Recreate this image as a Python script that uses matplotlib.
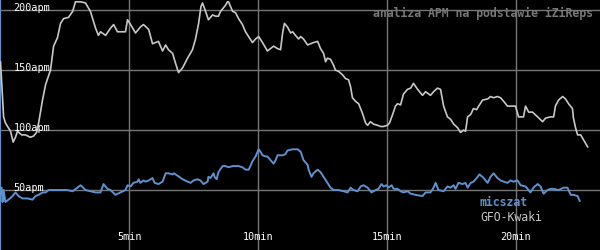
import matplotlib
matplotlib.use('Agg')
import matplotlib.pyplot as plt

# minutes / apm
gfo_t = [0.0, 0.12, 0.19, 0.39, 0.49, 0.58, 0.66, 0.82, 0.97, 1.16, 1.28, 1.40, 1.48, 1.63, 1.75, 1.94,
         2.06, 2.21, 2.33, 2.45, 2.64, 2.80, 2.91, 3.11, 3.30, 3.49, 3.69, 3.80, 3.88, 4.08, 4.27, 4.39,
         4.54, 4.74, 4.85, 4.93, 5.05, 5.24, 5.43, 5.55, 5.75, 5.90, 6.02, 6.13, 6.29, 6.41, 6.52, 6.68,
         6.79, 6.91, 7.07, 7.26, 7.45, 7.57, 7.69, 7.78, 7.84, 7.96, 8.07, 8.23, 8.35, 8.46, 8.54, 8.73,
         8.81, 8.85, 9.01, 9.12, 9.24, 9.39, 9.51, 9.63, 9.78, 9.90, 10.02, 10.17, 10.36, 10.48, 10.60,
         10.75, 10.87, 10.95, 11.02, 11.14, 11.26, 11.34, 11.45, 11.57, 11.65, 11.76, 11.92, 12.03, 12.15,
         12.31, 12.42, 12.54, 12.62, 12.69, 12.81, 12.93, 13.00, 13.12, 13.28, 13.39, 13.51, 13.59, 13.66,
         13.78, 13.90, 14.05, 14.17, 14.25, 14.36, 14.48, 14.64, 14.75, 14.87, 15.02, 15.10, 15.22, 15.33,
         15.41, 15.53, 15.64, 15.80, 15.92, 16.03, 16.19, 16.38, 16.50, 16.69, 16.81, 16.96, 17.08, 17.20,
         17.35, 17.47, 17.59, 17.74, 17.86, 17.97, 18.05, 18.13, 18.25, 18.36, 18.48, 18.56, 18.71, 18.91,
         19.02, 19.14, 19.29, 19.41, 19.53, 19.68, 19.80, 19.91, 19.99, 20.11, 20.30, 20.38, 20.50, 20.65,
         20.85, 21.04, 21.16, 21.35, 21.47, 21.54, 21.66, 21.82, 21.93, 22.05, 22.20, 22.24, 22.32, 22.40,
         22.52, 22.63, 22.79]
gfo_apm = [157, 111, 106, 99, 90, 94, 99, 96, 96, 94, 95, 98, 106, 125, 138, 150,
           170, 177, 189, 193, 194, 199, 207, 207, 206, 199, 185, 179, 182, 179, 185, 188,
           182, 182, 182, 192, 188, 181, 186, 188, 184, 172, 173, 174, 166, 171, 167, 164,
           156, 148, 152, 160, 167, 176, 189, 203, 206, 199, 192, 196, 195, 195, 199, 204,
           207, 207, 199, 198, 193, 188, 182, 178, 173, 176, 178, 173, 166, 168, 170,
           168, 167, 181, 189, 186, 181, 182, 179, 176, 178, 176, 171, 172, 173,
           174, 168, 164, 157, 160, 159, 154, 150, 149, 146, 143, 142, 136, 127,
           124, 122, 114, 106, 104, 107, 105, 104, 103, 103, 104, 106, 113, 120,
           122, 121, 130, 134, 135, 139, 134, 129, 132, 129, 132, 135, 134, 120,
           111, 109, 105, 102, 98, 100, 99, 111, 113, 118, 117, 120, 125, 126,
           128, 127, 128, 127, 124, 120, 120, 120, 120, 111, 111, 120, 115, 115,
           111, 107, 110, 111, 111, 120, 125, 128, 126, 122, 118, 110, 102, 96,
           96, 92, 86]

mic_t = [0.04, 0.08, 0.12, 0.19, 0.31, 0.47, 0.58, 0.70, 0.85, 1.05, 1.24, 1.36, 1.48, 1.63, 1.75, 1.86,
         2.06, 2.33, 2.60, 2.80, 2.99, 3.11, 3.30, 3.49, 3.69, 3.88, 4.00, 4.15, 4.27, 4.46, 4.66, 4.85,
         4.93, 5.05, 5.16, 5.32, 5.36, 5.43, 5.55, 5.63, 5.75, 5.90, 5.98, 6.13, 6.29, 6.41, 6.52, 6.68,
         6.72, 6.87, 7.07, 7.26, 7.38, 7.49, 7.65, 7.76, 7.88, 8.04, 8.07, 8.15, 8.27, 8.31, 8.39, 8.46,
         8.62, 8.73, 8.85, 9.01, 9.12, 9.24, 9.39, 9.51, 9.63, 9.70, 9.78, 9.90, 10.02, 10.09, 10.17,
         10.29, 10.36, 10.48, 10.60, 10.68, 10.75, 10.95, 11.06, 11.14, 11.34, 11.53, 11.65, 11.76, 11.92,
         11.96, 12.07, 12.15, 12.31, 12.42, 12.54, 12.69, 12.81, 12.93, 13.12, 13.32, 13.47, 13.59, 13.70,
         13.86, 13.98, 14.09, 14.25, 14.40, 14.56, 14.67, 14.79, 14.87, 14.98, 15.06, 15.18, 15.26, 15.41,
         15.53, 15.64, 15.80, 15.92, 16.11, 16.38, 16.50, 16.69, 16.81, 16.89, 17.00, 17.20, 17.35, 17.47,
         17.59, 17.66, 17.78, 17.93, 18.05, 18.13, 18.25, 18.36, 18.52, 18.59, 18.71, 18.91, 19.02, 19.14,
         19.29, 19.41, 19.53, 19.68, 19.80, 19.91, 20.07, 20.19, 20.38, 20.57, 20.69, 20.85, 20.96, 21.08,
         21.23, 21.35, 21.47, 21.66, 21.86, 22.01, 22.13, 22.24, 22.40, 22.48]
mic_apm = [52, 40, 50, 40, 42, 45, 48, 45, 43, 43, 42, 45, 46, 48, 48, 50,
           50, 50, 50, 49, 52, 54, 50, 49, 48, 48, 55, 51, 50, 46, 48, 50,
           54, 53, 56, 57, 59, 56, 58, 57, 58, 60, 56, 55, 57, 64, 64, 63,
           64, 62, 59, 57, 56, 58, 59, 58, 55, 57, 61, 60, 64, 61, 59, 65,
           70, 70, 69, 70, 70, 70, 69, 67, 67, 70, 74, 78, 84, 82, 79,
           78, 78, 75, 72, 75, 79, 79, 80, 83, 84, 84, 82, 75, 71,
           67, 61, 64, 67, 65, 61, 56, 52, 50, 50, 49, 48, 52, 50,
           49, 53, 54, 52, 48, 50, 51, 55, 53, 54, 52, 54, 51, 51,
           49, 48, 49, 47, 46, 45, 48, 48, 52, 56, 50, 49, 53, 52,
           54, 51, 56, 55, 56, 52, 56, 57, 61, 63, 61, 56, 61, 64,
           60, 58, 57, 56, 58, 57, 58, 54, 53, 48, 52, 55, 53, 47,
           50, 51, 51, 50, 52, 52, 46, 46, 45, 41]

names = ['micszat', 'GFO-Kwaki']
colors = ['#5f91cf', '#c8c8c8']
y_ticks = [50, 100, 150, 200]
x_ticks = [5, 10, 15, 20]
title = 'analiza APM na podstawie iZiReps'

mono = 'DejaVu Sans Mono'

fig = plt.figure(figsize=(6, 2.5), dpi=100, facecolor='black')
ax = fig.add_axes([0, 0, 1, 1])
ax.set_facecolor('black')
ax.set_xlim(-0.02, 23.27)
ax.set_ylim(0, 208.5)

for v in y_ticks:
    ax.axhline(v, color='#767676', lw=1, zorder=1)
    ax.text(0.5, v + 1.5, f'{v}apm', color='white', fontsize=7.3, family=mono,
            va='center', ha='left', zorder=4)
for v in x_ticks:
    ax.axvline(v, color='#767676', lw=1, zorder=1)
    ax.text(v, 11, f'{v}min', color='white', fontsize=7.3, family=mono,
            va='center', ha='center', zorder=4)

ax.plot(gfo_t, gfo_apm, color=colors[1], lw=1.2, zorder=3)
ax.plot(mic_t, mic_apm, color=colors[0], lw=1.4, zorder=3)

ax.text(0.988, 0.948, title, transform=ax.transAxes, color='#787878', fontsize=8.3,
        family=mono, fontweight='bold', ha='right', va='center', zorder=0)
ax.text(0.8, 0.19, names[0], transform=ax.transAxes, color=colors[0], fontsize=8.3,
        family=mono, fontweight='bold', ha='left', va='center')
ax.text(0.8, 0.13, names[1], transform=ax.transAxes, color=colors[1], fontsize=8.3,
        family=mono, ha='left', va='center')

ax.set_xticks([])
ax.set_yticks([])
for s in ['top', 'right', 'bottom']:
    ax.spines[s].set_visible(False)
ax.spines['left'].set_color(colors[0])
ax.spines['left'].set_linewidth(1.5)

fig.savefig('out.png', dpi=100, facecolor='black')
